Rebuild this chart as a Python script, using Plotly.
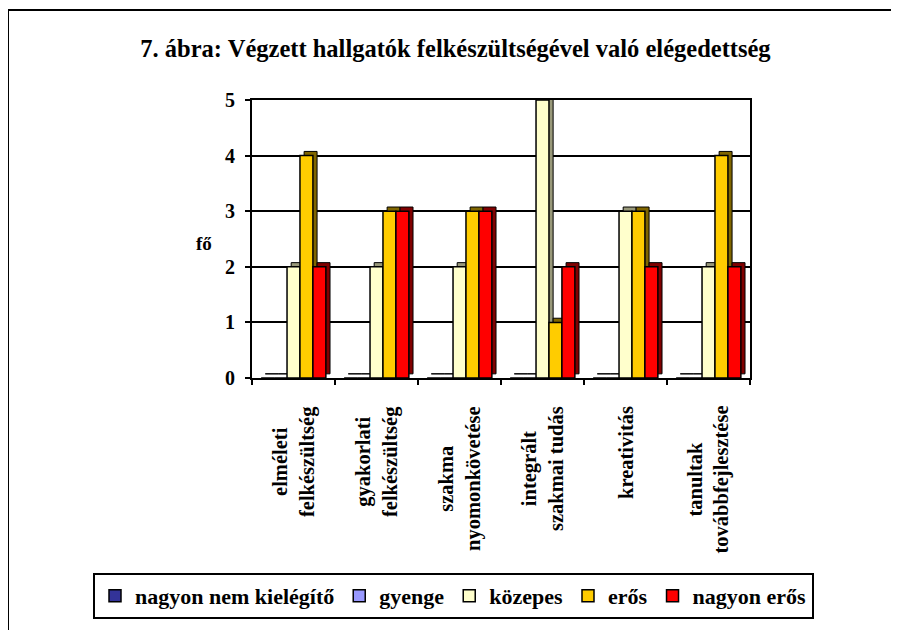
import plotly.graph_objects as go

categories = [
    "elméleti<br>felkészültség",
    "gyakorlati<br>felkészültség",
    "szakma<br>nyomonkövetése",
    "integrált<br>szakmai tudás",
    "kreativitás",
    "tanultak<br>továbbfejlesztése",
]
series_names = ["nagyon nem kielégítő", "gyenge", "közepes", "erős", "nagyon erős"]
nagyon_nem = [0, 0, 0, 0, 0, 0]
gyenge = [0, 0, 0, 0, 0, 0]
kozepes = [2, 2, 2, 5, 3, 2]
eros = [4, 3, 3, 1, 3, 4]
nagyon_eros = [2, 3, 3, 2, 2, 2]
series_values = [nagyon_nem, gyenge, kozepes, eros, nagyon_eros]
y_ticks = [0, 1, 2, 3, 4, 5]

front_colors = ["#333399", "#9999FF", "#FFFFCC", "#FFCC00", "#FF0000"]
side_colors = ["#1A1A4D", "#4D4D80", "#99997A", "#806600", "#800000"]

FONT = "Liberation Serif, Times New Roman, serif"

OFF = 8  # default page body margin
W, H = 899 - OFF, 630 - OFF
# plot area (page pixels -> figure pixels)
L, R, T, B = 252 - OFF, 750 - OFF, 100 - OFF, 378 - OFF


def px_x(page_x):
    return (page_x - OFF - L) / (R - L)


def px_y(page_y):
    return (B - (page_y - OFF)) / (B - T)


bw = 0.156            # bar width in category units
depth_x = 0.05        # 3D depth (category units)
depth_y = 0.075       # 3D depth (value units)

fig = go.Figure()
for i, (name, vals) in enumerate(zip(series_names, series_values)):
    off = -2.5 * bw + i * bw
    fig.add_trace(go.Bar(
        x=categories, y=vals, base=[depth_y] * len(vals),
        offset=off + depth_x, width=bw,
        marker=dict(color=side_colors[i], line=dict(color="black", width=1)),
        showlegend=False, hoverinfo="skip",
    ))
    fig.add_trace(go.Bar(
        x=categories, y=vals, name=name,
        offset=off, width=bw,
        marker=dict(color=front_colors[i], line=dict(color="black", width=1.5)),
    ))

annotations = [dict(
    text="<b>fő</b>", xref="paper", yref="paper",
    x=px_x(204), y=px_y(243),
    xanchor="center", yanchor="middle", showarrow=False,
    font=dict(family=FONT, size=19, color="black"),
)]
for i, cat in enumerate(categories):
    annotations.append(dict(
        text="<b>" + cat + "</b>", xref="x", yref="paper",
        x=i, y=px_y(404), xanchor="center", yanchor="top",
        textangle=-90, align="center", showarrow=False,
        font=dict(family=FONT, size=20.5, color="black"),
    ))

fig.update_layout(
    width=W, height=H,
    barmode="overlay",
    paper_bgcolor="white", plot_bgcolor="white",
    margin=dict(l=L, r=W - R, t=T, b=H - B, autoexpand=False),
    font=dict(family=FONT, color="black"),
    title=dict(
        text="<b>7. ábra: Végzett hallgatók felkészültségével való elégedettség</b>",
        x=((140 + 771) / 2 - OFF) / W, xanchor="center",
        y=1 - (48 - OFF) / H, yanchor="middle",
        font=dict(family=FONT, size=24.5, color="black"),
    ),
    xaxis=dict(
        type="category",
        showticklabels=False,
        tickson="boundaries", ticks="outside", ticklen=5, tickwidth=2, tickcolor="black",
        showline=True, linecolor="black", linewidth=2, mirror=True,
        showgrid=False,
        range=[-0.5, 5.5],
    ),
    yaxis=dict(
        range=[0, 5], tickvals=y_ticks,
        ticks="outside", ticklen=5, tickwidth=2, tickcolor="black",
        ticklabelstandoff=6,
        showline=True, linecolor="black", linewidth=2, mirror=True,
        showgrid=True, gridcolor="black", gridwidth=2,
        zeroline=False,
        tickfont=dict(family=FONT, size=20, color="black", weight="bold"),
    ),
    legend=dict(
        orientation="h",
        x=px_x(93), xanchor="left",
        y=px_y(573), yanchor="top",
        bordercolor="black", borderwidth=2,
        font=dict(family=FONT, size=22, color="black", weight="bold"),
        itemwidth=30,
        traceorder="normal",
    ),
    annotations=annotations,
    shapes=[dict(
        type="rect", xref="paper", yref="paper",
        x0=px_x(8), x1=px_x(960),
        y0=px_y(700), y1=px_y(10),
        line=dict(color="black", width=2), fillcolor="rgba(0,0,0,0)", layer="below",
    )],
)

fig.write_html("out.html")
